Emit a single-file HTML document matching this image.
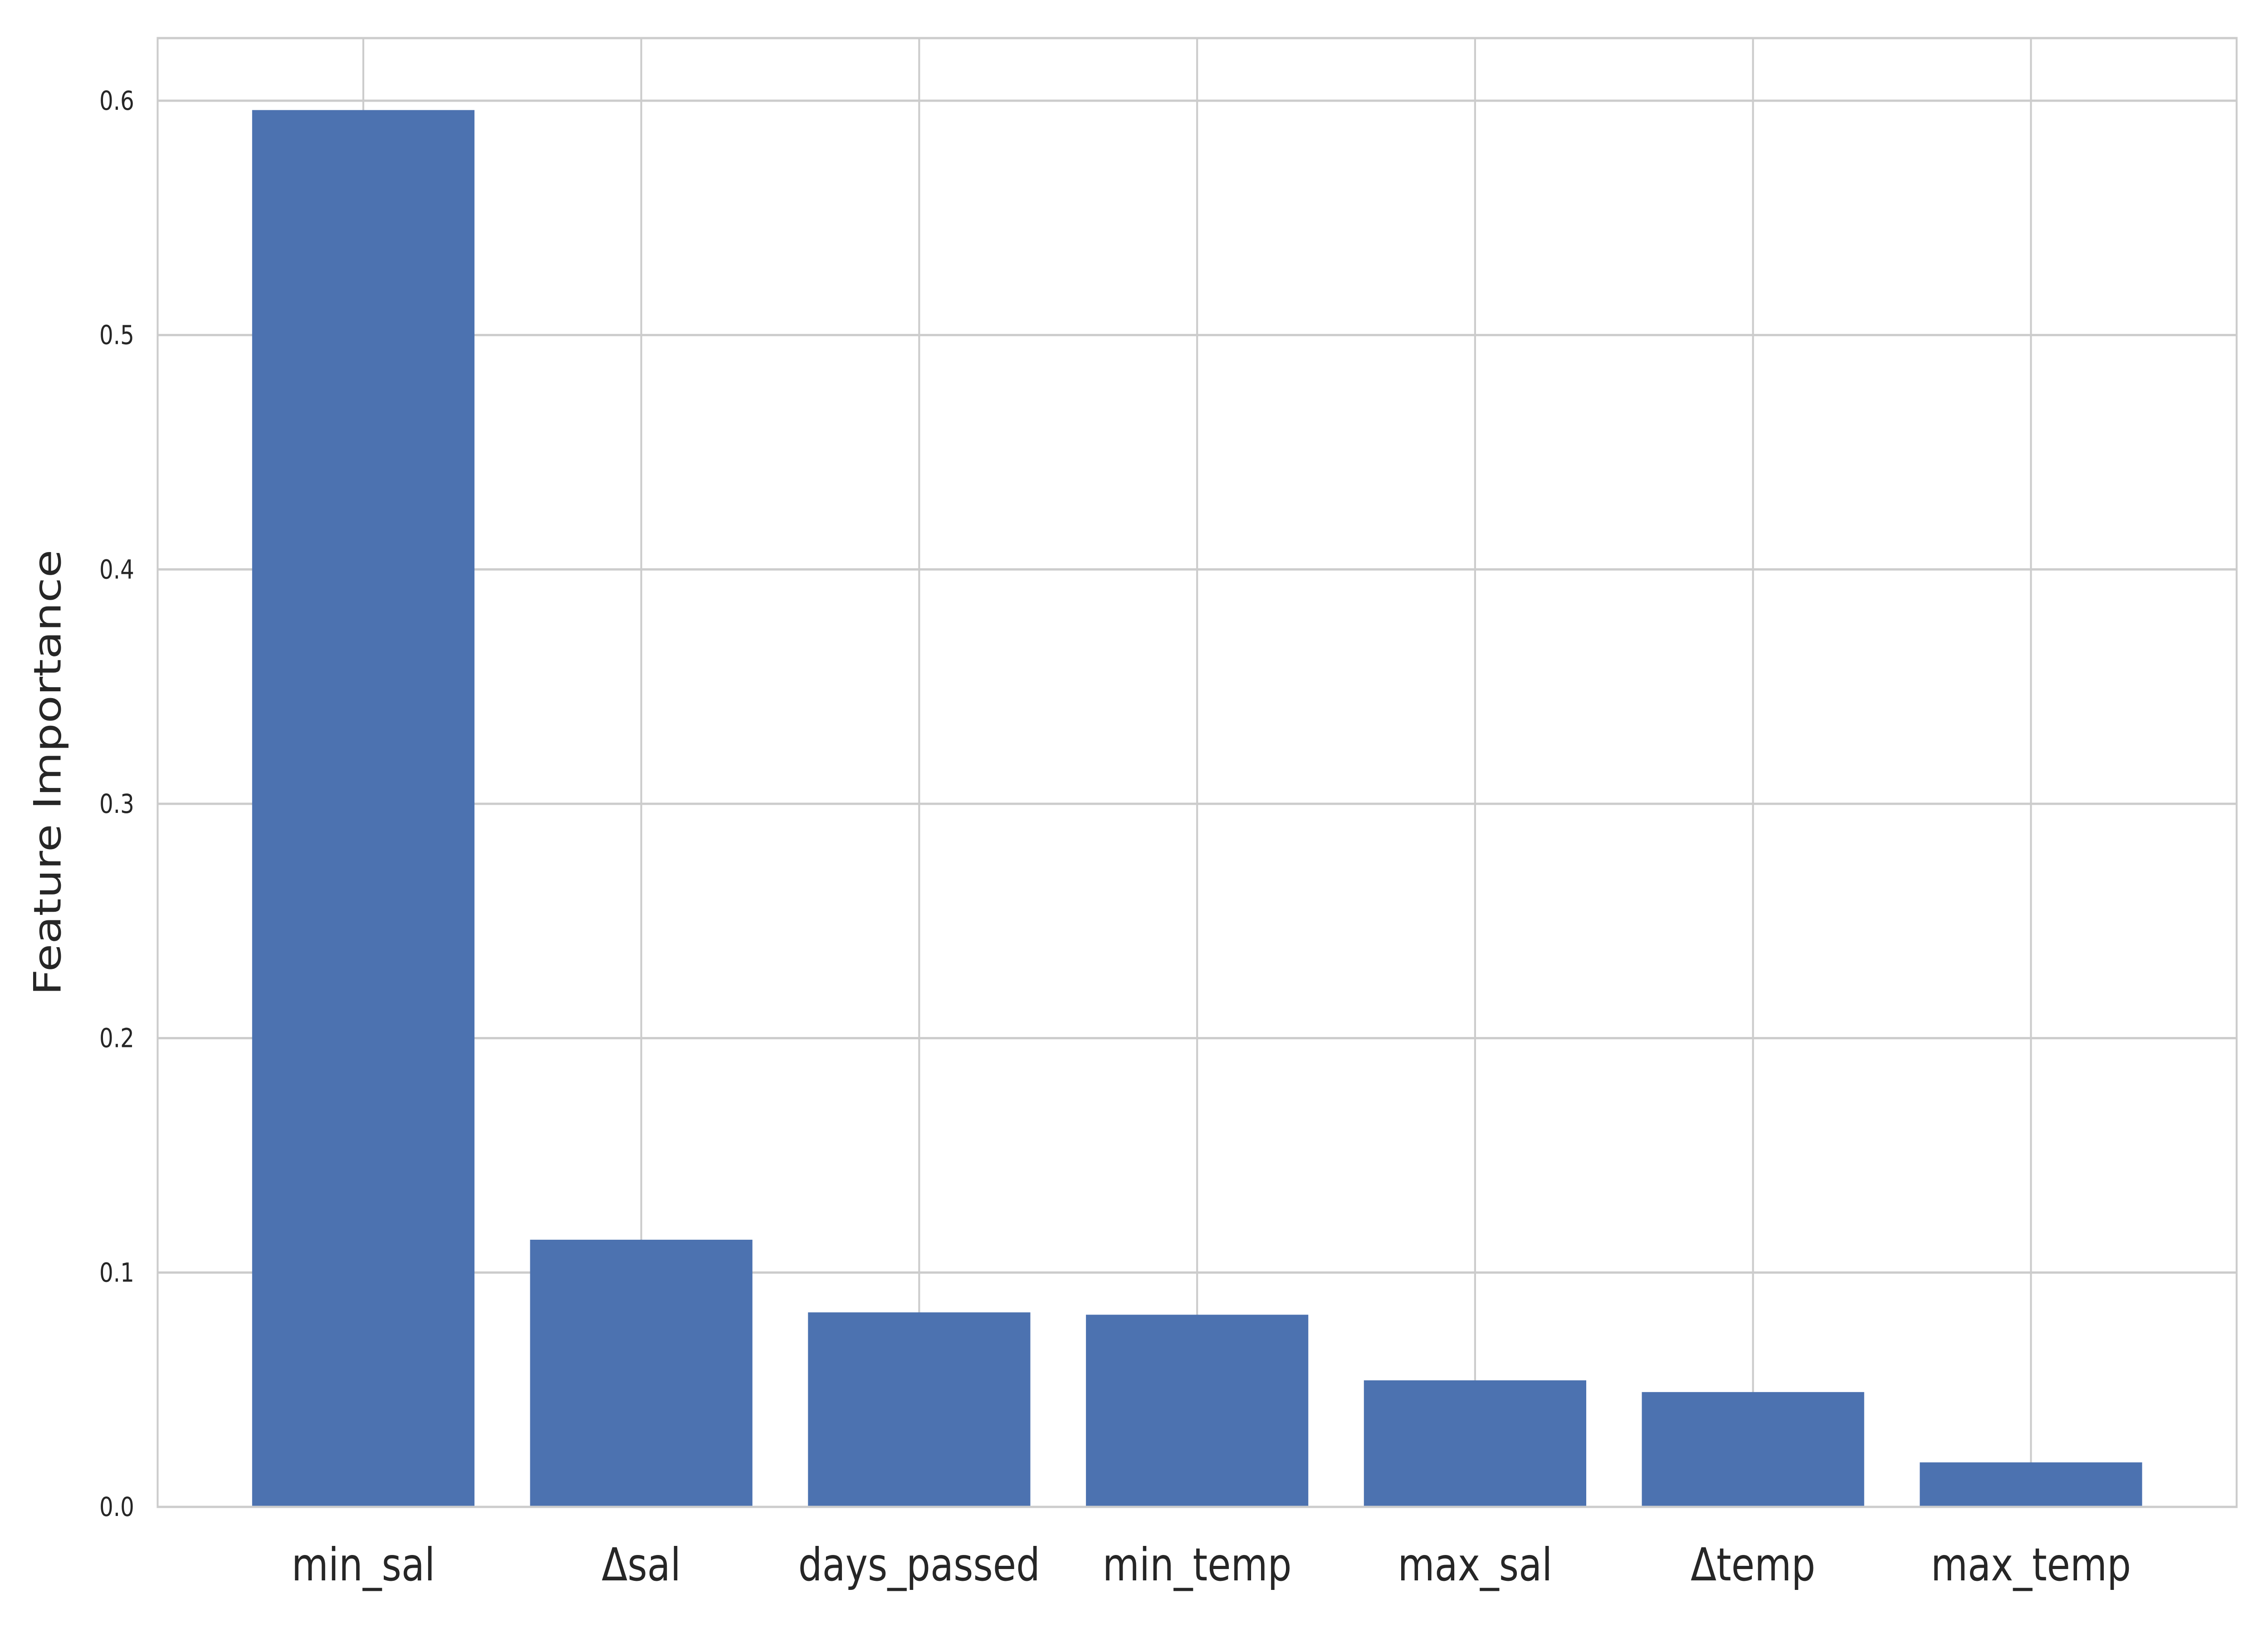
<!DOCTYPE html>
<html><head><meta charset="utf-8"><style>
html,body{margin:0;padding:0;background:#fff;width:100%;height:100%;overflow:hidden;}
svg{display:block;width:100vw;height:100vh;font-family:"DejaVu Sans","Liberation Sans",sans-serif;}
</style></head><body>
<svg id="chart" viewBox="0 0 6000 3600" preserveAspectRatio="none" xmlns="http://www.w3.org/2000/svg">
<rect width="6000" height="3600" fill="#fff"/>
<g id="grid"></g>
<g id="bars"></g>
<rect x="417" y="84" width="5500" height="3238" fill="none" stroke="#cccccc" stroke-width="5"/>
<g id="yticks"></g>
<g id="xticks"></g>
<text transform="translate(160,1703) rotate(-90)" text-anchor="middle" font-size="100" fill="#262626">Feature Importance</text>
</svg>
<script>
const categories = ["min_sal","Δsal","days_passed","min_temp","max_sal","Δtemp","max_temp"];
const importances = [0.596, 0.114, 0.083, 0.082, 0.054, 0.049, 0.019];
const yTickValues = [0.0,0.1,0.2,0.3,0.4,0.5,0.6];
const yTickLabels = ["0.0","0.1","0.2","0.3","0.4","0.5","0.6"];

const L=417,R=5917,T=84,B=3322;
const xMin=-0.74,xMax=categories.length-1+0.74,yMin=0,yMax=0.6267;
const xs=v=>L+(v-xMin)/(xMax-xMin)*(R-L);
const ys=v=>B-(v-yMin)/(yMax-yMin)*(B-T);
const NS="http://www.w3.org/2000/svg";
function mk(tag,attrs,parent){const e=document.createElementNS(NS,tag);for(const k in attrs)e.setAttribute(k,attrs[k]);parent.appendChild(e);return e;}
const grid=document.getElementById('grid'),bars=document.getElementById('bars'),yt=document.getElementById('yticks'),xt=document.getElementById('xticks');
yTickValues.forEach((v,i)=>{
  const y=ys(v);
  const g=mk('line',{x1:L,x2:R,y1:y,y2:y,stroke:'#cccccc','stroke-width':5},grid);
  
  
  const t=mk('text',{x:355,y:y+20,'text-anchor':'end','font-size':58,fill:'#262626'},yt);
  t.textContent=yTickLabels[i];
  
  
});
categories.forEach((c,i)=>{
  const x=xs(i);
  const g=mk('line',{x1:x,x2:x,y1:T,y2:B,stroke:'#cccccc','stroke-width':5},grid);
  
  
  const w=(xs(0.4)-xs(-0.4));
  const r=mk('rect',{x:x-w/2,y:ys(importances[i]),width:w,height:ys(0)-ys(importances[i]),fill:'#4c72b0'},bars);
  
  
  const t=mk('text',{x:x,y:3484,'text-anchor':'middle','font-size':100,fill:'#262626'},xt);
  t.textContent=c;
  
  
});
</script>
</body></html>
